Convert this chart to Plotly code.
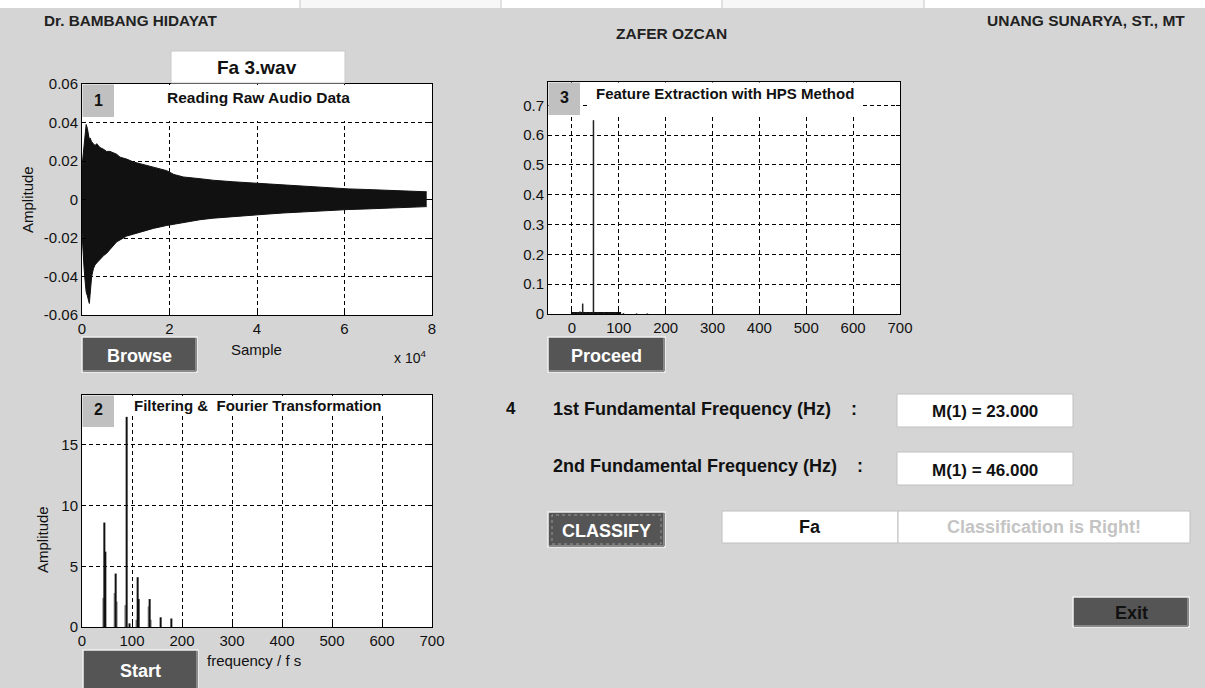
import plotly.graph_objects as go

W, H = 1205, 688

# ---------------- data ----------------
# Plot 1: raw audio waveform, read as upper / lower envelope (samples)
wave_samples = [0, 150, 450, 700, 950, 1220, 1450, 1680, 1830, 2210, 2600, 2970, 3350,
                4110, 5000, 5600, 6400, 7200, 7930, 8690, 10210, 11740, 13260, 15540,
                16310, 19350, 21000, 23160, 26970, 30000, 34590, 38000, 42210, 46000,
                49830, 53000, 57450, 61000, 65070, 69000, 72690, 76000, 78790]
wave_upper = [0.017, 0.021, 0.030, 0.036, 0.039, 0.037, 0.034, 0.031, 0.032, 0.030,
              0.029, 0.028, 0.029, 0.027, 0.026, 0.025, 0.025, 0.024, 0.0235, 0.022,
              0.021, 0.0195, 0.0186, 0.017, 0.0165, 0.015, 0.013, 0.0117, 0.0108,
              0.0100, 0.0092, 0.0087, 0.0080, 0.0074, 0.0069, 0.0064, 0.0058, 0.0055,
              0.0052, 0.0049, 0.0046, 0.0043, 0.0040]
wave_lower = [-0.017, -0.025, -0.035, -0.042, -0.048, -0.050, -0.053, -0.054, -0.050,
              -0.040, -0.036, -0.034, -0.033, -0.031, -0.029, -0.028, -0.026, -0.024,
              -0.022, -0.021, -0.019, -0.018, -0.017, -0.0155, -0.015, -0.0135,
              -0.0128, -0.012, -0.0105, -0.0097, -0.0088, -0.0082, -0.0076, -0.0070,
              -0.0065, -0.0060, -0.0055, -0.0052, -0.0049, -0.0046, -0.0043, -0.0040,
              -0.0037]

# Plot 2: filtered FFT spectrum peaks
fft_freq_main = [44.7, 46.7, 67.3, 89.3, 95.0, 111.3, 113.3, 135.3, 157.3, 178.7]
fft_amp_main = [8.6, 6.2, 4.4, 17.3, 0.3, 4.1, 2.3, 2.3, 0.8, 0.7]
fft_freq_side = [42.7, 65.3, 69.3, 86.7, 109.0, 133.3, 137.3]
fft_amp_side = [2.4, 2.8, 2.1, 1.8, 0.6, 1.7, 0.6]

# Plot 3: HPS spectrum
hps_freq = [5, 12, 17, 23, 30, 38, 46, 55, 69, 80, 92, 110, 138, 161]
hps_amp = [0.004, 0.006, 0.008, 0.035, 0.006, 0.005, 0.65, 0.005, 0.006, 0.004,
           0.004, 0.003, 0.002, 0.002]
hps_floor_freq = [0, 105]
hps_floor_amp = [0.003, 0.003]

# tick labels
p1_xticks = [0, 20000, 40000, 60000, 80000]
p1_xtext = ["0", "2", "4", "6", "8"]
p1_yticks = [-0.06, -0.04, -0.02, 0, 0.02, 0.04, 0.06]
p1_ytext = ["-0.06", "-0.04", "-0.02", "0", "0.02", "0.04", "0.06"]
freq_ticks = [0, 100, 200, 300, 400, 500, 600, 700]
p2_yticks = [0, 5, 10, 15]
p3_yticks = [0, 0.1, 0.2, 0.3, 0.4, 0.5, 0.6, 0.7]
p3_ytext = ["0", "0.1", "0.2", "0.3", "0.4", "0.5", "0.6", "0.7"]

FONT = "Liberation Sans, Arial, sans-serif"


def spikes(fs, amps):
    xs, ys = [], []
    for f, a in zip(fs, amps):
        xs += [f, f, None]
        ys += [0, a, None]
    return xs, ys


fig = go.Figure()

# plot 1 waveform (envelope fill)
fig.add_trace(go.Scatter(x=wave_samples, y=wave_lower, mode="lines",
                         line=dict(color="#111", width=1), xaxis="x", yaxis="y",
                         hoverinfo="skip", showlegend=False))
fig.add_trace(go.Scatter(x=wave_samples, y=wave_upper, mode="lines", fill="tonexty",
                         fillcolor="#111", line=dict(color="#111", width=1),
                         xaxis="x", yaxis="y", hoverinfo="skip", showlegend=False))

# plot 2 spectrum
sx, sy = spikes(fft_freq_side, fft_amp_side)
fig.add_trace(go.Scatter(x=sx, y=sy, mode="lines", line=dict(color="#8a8a8a", width=2),
                         xaxis="x2", yaxis="y2", hoverinfo="skip", showlegend=False))
mx, my = spikes(fft_freq_main, fft_amp_main)
fig.add_trace(go.Scatter(x=mx, y=my, mode="lines", line=dict(color="#111", width=2),
                         xaxis="x2", yaxis="y2", hoverinfo="skip", showlegend=False))

# plot 3 HPS
fig.add_trace(go.Scatter(x=hps_floor_freq, y=hps_floor_amp, mode="lines",
                         line=dict(color="#111", width=2), xaxis="x3", yaxis="y3",
                         hoverinfo="skip", showlegend=False))
hx, hy = spikes(hps_freq, hps_amp)
fig.add_trace(go.Scatter(x=hx, y=hy, mode="lines", line=dict(color="#222", width=1.5),
                         xaxis="x3", yaxis="y3", hoverinfo="skip", showlegend=False))


def fx(x):
    return x / W


def fy(y):
    return 1 - y / H


axis_common = dict(showline=True, linecolor="black", linewidth=1, mirror="ticks",
                   ticks="inside", ticklen=4, tickcolor="black", showgrid=True,
                   gridcolor="black", gridwidth=1, griddash="4px,3px", zeroline=False,
                   automargin=False,
                   tickfont=dict(family=FONT, size=15, color="#111"), fixedrange=True)

fig.update_layout(
    width=W, height=H, margin=dict(l=0, r=0, t=0, b=0, pad=0, autoexpand=False),
    paper_bgcolor="#d5d5d5", plot_bgcolor="white", showlegend=False,
    xaxis=dict(axis_common, domain=[fx(82), fx(432)], anchor="y", range=[0, 80000],
               tickvals=p1_xticks, ticktext=p1_xtext),
    yaxis=dict(axis_common, domain=[fy(315), fy(84)], anchor="x", range=[-0.06, 0.06],
               tickvals=p1_yticks, ticktext=p1_ytext),
    xaxis2=dict(axis_common, domain=[fx(82), fx(432)], anchor="y2", range=[0, 700],
                tickvals=freq_ticks),
    yaxis2=dict(axis_common, domain=[fy(627), fy(395)], anchor="x2", range=[0, 19.1],
                tickvals=p2_yticks),
    xaxis3=dict(axis_common, domain=[fx(548), fx(900)], anchor="y3", range=[-51, 700],
                tickvals=freq_ticks),
    yaxis3=dict(axis_common, domain=[fy(314), fy(82)], anchor="x3", range=[0, 0.778],
                tickvals=p3_yticks, ticktext=p3_ytext),
)

shapes = []
ann = []


def rect(x0, y0, x1, y1, fill, line="rgba(0,0,0,0)", lw=0, dash=None):
    d = dict(type="rect", xref="paper", yref="paper", x0=fx(x0), x1=fx(x1),
             y0=fy(y1), y1=fy(y0), fillcolor=fill, line=dict(color=line, width=lw),
             layer="above")
    if dash:
        d["line"]["dash"] = dash
    shapes.append(d)


def seg(x0, y0, x1, y1, color, lw=1):
    shapes.append(dict(type="line", xref="paper", yref="paper", x0=fx(x0), x1=fx(x1),
                       y0=fy(y0), y1=fy(y1), line=dict(color=color, width=lw),
                       layer="above"))


def text(x, y, s, size=15, bold=False, color="#111", xanchor="center", angle=0):
    if bold:
        s = "<b>" + s + "</b>"
    ann.append(dict(x=fx(x), y=fy(y), xref="paper", yref="paper", text=s,
                    showarrow=False, xanchor=xanchor, yanchor="middle",
                    textangle=angle, font=dict(family=FONT, size=size, color=color)))


def button(x0, y0, x1, y1, label, color="white", size=18):
    rect(x0, y0, x1, y1, "#555555", "#f0f0f0", 1.5)
    seg(x0 + 1, y1 - 1, x1 - 1, y1 - 1, "#8a8a8a", 2)
    seg(x1 - 1, y0 + 1, x1 - 1, y1 - 1, "#8a8a8a", 2)
    text((x0 + x1) / 2, (y0 + y1) / 2 + 1, label, size=size, bold=True, color=color)


# top white strip
rect(0, 0, W, 8, "white")
rect(300, 0, 501, 8, "#f7f7f7")
rect(722, 0, 924, 8, "#f7f7f7")
for xs in [300, 501, 722, 924]:
    seg(xs, 0, xs, 8, "#c8c8c8", 1)

# header names
text(42, 20, "Dr. BAMBANG HIDAYAT", size=15.3, bold=True, color="#222", xanchor="left")
text(671, 34, "ZAFER OZCAN", size=15.5, bold=True, color="#222")
text(1187, 20, "UNANG SUNARYA, ST., MT", size=15.5, bold=True, color="#222",
     xanchor="right")

# file name box
rect(171, 51, 345, 83, "white", "#c8c8c8", 1)
text(257, 68, "Fa 3.wav", size=19, bold=True)

# plot 1 decorations
rect(114.5, 85, 431, 121, "white")
rect(82.5, 84.5, 114, 117, "#c0c0c0")
text(98, 100, "1", size=16, bold=True)
text(258, 97, "Reading Raw Audio Data", size=15.5, bold=True)
text(27, 200, "Amplitude", size=15, angle=-90)
text(256, 349, "Sample", size=15)
text(410, 357, "x 10<sup>4</sup>", size=14)
button(82, 337, 197, 372, "Browse")

# plot 2 decorations
rect(114.5, 396, 431, 416, "white")
rect(82.5, 395.5, 114, 427, "#c0c0c0")
text(98, 410, "2", size=16, bold=True)
text(258, 405, "Filtering &amp;  Fourier Transformation", size=15, bold=True)
text(42, 540, "Amplitude", size=15, angle=-90)
text(254, 660, "frequency / f s", size=15)
button(83, 650, 198, 690, "Start")

# plot 3 decorations
rect(587, 82.5, 861, 116, "white")
rect(548.5, 82.5, 580, 115, "#c0c0c0")
text(564, 97, "3", size=16, bold=True)
text(725, 93, "Feature Extraction with HPS Method", size=15, bold=True)
button(548, 337, 665, 372, "Proceed")

# section 4
text(511, 409, "4", size=17, bold=True)
text(551, 409, "1st Fundamental Frequency (Hz)&nbsp;&nbsp;&nbsp; :", size=18, bold=True,
     xanchor="left")
text(551, 466, "2nd Fundamental Frequency (Hz)&nbsp;&nbsp;&nbsp; :", size=18, bold=True,
     xanchor="left")
rect(897, 394, 1073, 427, "white", "#c0c0c0", 1)
text(985, 412, "M(1) = 23.000", size=17, bold=True)
rect(897, 452, 1073, 485, "white", "#c0c0c0", 1)
text(985, 470, "M(1) = 46.000", size=17, bold=True)

button(548, 512, 665, 547, "CLASSIFY", size=18)
rect(552, 515, 661, 544, "rgba(0,0,0,0)", "#999999", 1, dash="dot")

rect(722, 511, 898, 543, "white", "#c0c0c0", 1)
text(810, 527, "Fa", size=18, bold=True)
rect(898, 511, 1190, 543, "white", "#c0c0c0", 1)
text(1044, 527, "Classification is Right!", size=18, bold=True, color="#c4c4c4")

button(1073, 597, 1189, 627, "Exit", color="#111")

fig.update_layout(shapes=shapes, annotations=ann)
fig.write_html("out.html", config={"displayModeBar": False},
               post_script="document.body.style.margin='0';")
